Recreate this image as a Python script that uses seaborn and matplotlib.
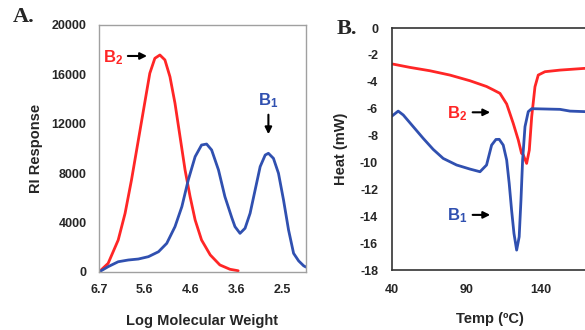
import pandas as pd
import numpy as np
import seaborn as sns
import matplotlib.pyplot as plt

# --- Panel A: GPC traces (x = elution position, labelled by log MW) ---
mw_labels = ['6.7', '5.6', '4.6', '3.6', '2.5']

b2_pos = [0, 0.20, 0.42, 0.57, 0.71, 0.86, 1.01, 1.11, 1.22, 1.33, 1.44, 1.55,
          1.66, 1.77, 1.88, 1.99, 2.10, 2.24, 2.43, 2.64, 2.86, 3.04]
b2_ri = [0, 700, 2590, 4750, 7450, 10690, 13930, 16090, 17300, 17570, 17170, 15810,
         13660, 10960, 8260, 6100, 4210, 2590, 1380, 570, 220, 100]

b1_pos = [0, 0.20, 0.42, 0.64, 0.86, 1.08, 1.30, 1.48, 1.66, 1.81, 1.95, 2.10,
          2.24, 2.35, 2.46, 2.61, 2.75, 2.90, 2.97, 3.08, 3.19, 3.30, 3.41, 3.52,
          3.63, 3.70, 3.81, 3.92, 4.03, 4.14, 4.25, 4.36, 4.47, 4.52]
b1_ri = [0, 430, 830, 970, 1050, 1240, 1640, 2320, 3670, 5290, 7450, 9340,
         10280, 10360, 9880, 8260, 6100, 4400, 3670, 3130, 3540, 4750, 6640, 8530,
         9470, 9610, 9200, 7990, 5830, 3400, 1510, 900, 500, 400]

# --- Panel B: DSC traces ---
b2_temp = [40.5, 52.1, 65.5, 78.9, 92.3, 103.5, 108, 112.5, 117, 119, 121.4, 124.8,
           127.0, 128.0, 130.4, 132.2, 133.8, 136, 138.2, 142.7, 152.8, 169.5]
b2_heat = [-2.68, -2.93, -3.18, -3.50, -3.92, -4.35, -4.6, -4.86, -5.65, -6.3, -7.09, -8.33,
           -9.33, -9.4, -10.07, -9.08, -6.6, -4.37, -3.5, -3.25, -3.13, -3.0]

b1_temp = [40, 44.2, 47.6, 54.3, 61.0, 67.7, 74.4, 83.4, 92.3, 99.1, 103.5, 106.9,
           109.8, 112, 114.7, 117, 118.7, 120.3, 121.9, 123.7, 125.4, 126.6, 127.7,
           129.3, 131.5, 133.8, 152.8, 159.5, 169.5]
b1_heat = [-6.55, -6.18, -6.47, -7.34, -8.21, -9.03, -9.70, -10.19, -10.49, -10.69, -10.19, -8.71,
           -8.29, -8.28, -8.71, -9.82, -11.56, -13.54, -15.28, -16.52, -15.53, -12.8, -9.82,
           -7.34, -6.22, -6.0, -6.05, -6.18, -6.22]

RED = '#ff2626'
BLUE = '#3050b0'

sns.set_style('white')
plt.rcParams['font.family'] = ['Liberation Sans', 'DejaVu Sans']
plt.rcParams['font.weight'] = 'bold'
plt.rcParams['axes.labelweight'] = 'bold'
plt.rcParams['axes.unicode_minus'] = False
plt.rcParams['mathtext.fontset'] = 'custom'
plt.rcParams['mathtext.rm'] = 'Liberation Sans:bold'
plt.rcParams['mathtext.bf'] = 'Liberation Sans:bold'

gpc = pd.concat([
    pd.DataFrame({'pos': b2_pos, 'ri': b2_ri, 'sample': 'B2'}),
    pd.DataFrame({'pos': b1_pos, 'ri': b1_ri, 'sample': 'B1'}),
])
dsc = pd.concat([
    pd.DataFrame({'temp': b2_temp, 'heat': b2_heat, 'sample': 'B2'}),
    pd.DataFrame({'temp': b1_temp, 'heat': b1_heat, 'sample': 'B1'}),
])
pal = {'B2': RED, 'B1': BLUE}

fig = plt.figure(figsize=(5.85, 3.3), dpi=100)
axA = fig.add_axes([0.1692, 0.1758, 0.3538, 0.7485])
axB = fig.add_axes([0.670, 0.1818, 0.382, 0.7333])

# panel A
sns.lineplot(data=gpc, x='pos', y='ri', hue='sample', palette=pal, estimator=None,
             sort=False, linewidth=2.0, legend=False, ax=axA)
axA.set_xlim(0, 4.52)
axA.set_ylim(0, 20000)
axA.set_xticks(range(len(mw_labels)))
axA.set_xticklabels(mw_labels)
axA.set_yticks(np.arange(0, 20001, 4000))
axA.set_xlabel('Log Molecular Weight', fontsize=10.5)
axA.set_ylabel('RI Response', fontsize=10.5)
axA.xaxis.set_label_coords(0.5, -0.17)
axA.yaxis.set_label_coords(-0.27, 0.5)
for s in axA.spines.values():
    s.set_color('#a0a0a0')
    s.set_linewidth(1.0)
axA.tick_params(direction='out', length=4, width=0.8, color='#a0a0a0', labelsize=9, pad=5)

axA.text(0.52, 17000, r'$\mathbf{B_2}$', color=RED, fontsize=12, ha='right', va='baseline')
axA.annotate('', xy=(1.11, 17490), xytext=(0.57, 17490),
             arrowprops=dict(arrowstyle='-|>', color='black', lw=1.5, mutation_scale=10))
axA.text(3.70, 13520, r'$\mathbf{B_1}$', color=BLUE, fontsize=12, ha='center', va='baseline')
axA.annotate('', xy=(3.70, 10930), xytext=(3.70, 12960),
             arrowprops=dict(arrowstyle='-|>', color='black', lw=1.5, mutation_scale=10))

# panel B
sns.lineplot(data=dsc, x='temp', y='heat', hue='sample', palette=pal, estimator=None,
             sort=False, linewidth=2.0, legend=False, ax=axB)
axB.set_xlim(40, 190)
axB.set_ylim(-18, 0)
axB.set_xticks([40, 90, 140])
axB.set_yticks(np.arange(-18, 1, 2))
axB.set_xlabel('Temp (ºC)', fontsize=10.5)
axB.set_ylabel('Heat (mW)', fontsize=10.5)
axB.xaxis.set_label_coords(0.438, -0.175)
axB.yaxis.set_label_coords(-0.195, 0.5)
for s in axB.spines.values():
    s.set_color('#333333')
    s.set_linewidth(1.2)
axB.tick_params(direction='out', length=4, width=0.8, color='#555555', labelsize=9, pad=6)

axB.text(77, -6.72, r'$\mathbf{B_2}$', color=RED, fontsize=12, ha='left', va='baseline')
axB.annotate('', xy=(107.8, -6.27), xytext=(92.3, -6.27),
             arrowprops=dict(arrowstyle='-|>', color='black', lw=1.5, mutation_scale=10))
axB.text(77, -14.3, r'$\mathbf{B_1}$', color=BLUE, fontsize=12, ha='left', va='baseline')
axB.annotate('', xy=(107.8, -13.9), xytext=(92.3, -13.9),
             arrowprops=dict(arrowstyle='-|>', color='black', lw=1.5, mutation_scale=10))

# panel letters
fig.text(13 / 585, 1 - 17 / 330, 'A.', family='Liberation Serif', fontweight='bold',
         fontsize=16, ha='left', va='center')
fig.text(337 / 585, 1 - 29 / 330, 'B.', family='Liberation Serif', fontweight='bold',
         fontsize=16, ha='left', va='center')

fig.savefig('out.png', dpi=100)
